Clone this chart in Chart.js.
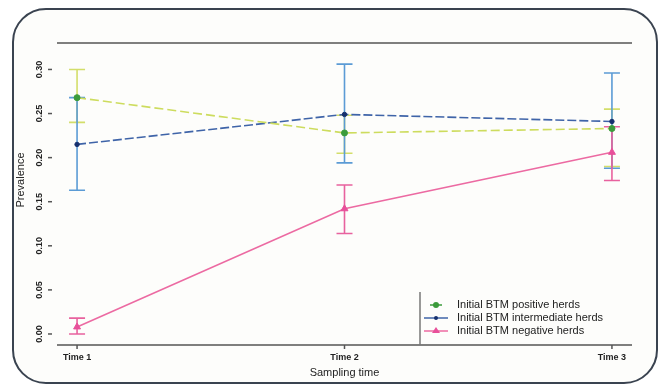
<!DOCTYPE html>
<html>
<head>
<meta charset="utf-8">
<script src="https://cdn.jsdelivr.net/npm/chart.js@4"></script>
<style>
  html, body { margin: 0; padding: 0; background: #fff; }
  #wrap { position: relative; width: 662px; height: 384px; }
  #frame { position: absolute; left: 12px; top: 8px; width: 642px; height: 372px;
           border: 2px solid #3a4350; border-radius: 34px; background: #fdfdfb; }
  canvas { position: absolute; left: 0; top: 0; }
</style>
</head>
<body>
<div id="wrap">
  <div id="frame"></div>
  <canvas id="cvs" width="662" height="384"></canvas>
</div>
<script>
// sampling times
const times = [1, 2, 3];
const timeLabels = ['Time 1', 'Time 2', 'Time 3'];
const yTicks = [0.00, 0.05, 0.10, 0.15, 0.20, 0.25, 0.30];

// prevalence + error bars
const posMean = [0.268, 0.228, 0.233];
const posLow  = [0.240, 0.205, 0.190];
const posHigh = [0.300, 0.248, 0.255];

const intMean = [0.215, 0.249, 0.241];
const intLow  = [0.163, 0.194, 0.188];
const intHigh = [0.268, 0.306, 0.296];

const negMean = [0.008, 0.142, 0.206];
const negLow  = [0.000, 0.114, 0.174];
const negHigh = [0.018, 0.169, 0.235];

const legendNames = ['Initial BTM positive herds', 'Initial BTM intermediate herds', 'Initial BTM negative herds'];

function pts(arr) { return times.map((t, i) => ({x: t, y: arr[i]})); }

const errBars = [
  {low: posLow, high: posHigh, color: '#d3de6a'},
  {low: intLow, high: intHigh, color: '#5b9bd5'},
  {low: negLow, high: negHigh, color: '#e8629e'}
];

const decor = {
  id: 'decor',
  beforeDatasetsDraw(chart) {
    const ctx = chart.ctx, xs = chart.scales.x, ys = chart.scales.y;
    ctx.save();
    errBars.forEach(e => {
      ctx.strokeStyle = e.color;
      ctx.lineWidth = 1.6;
      times.forEach((t, i) => {
        let x = xs.getPixelForValue(t),
            y1 = ys.getPixelForValue(e.low[i]),
            y2 = ys.getPixelForValue(e.high[i]);
        ctx.beginPath();
        ctx.moveTo(x, y1); ctx.lineTo(x, y2);
        ctx.moveTo(x - 8, y1); ctx.lineTo(x + 8, y1);
        ctx.moveTo(x - 8, y2); ctx.lineTo(x + 8, y2);
        ctx.stroke();
      });
    });
    ctx.restore();
  },
  afterDraw(chart) {
    const ctx = chart.ctx, xs = chart.scales.x, ys = chart.scales.y, a = chart.chartArea;
    ctx.save();
    // box lines
    ctx.strokeStyle = '#555';
    ctx.lineWidth = 1.5;
    ctx.beginPath();
    ctx.moveTo(a.left, a.top); ctx.lineTo(a.right, a.top);
    ctx.moveTo(a.left, a.bottom); ctx.lineTo(a.right, a.bottom);
    ctx.stroke();
    // y ticks, rotated labels
    ctx.fillStyle = '#222';
    ctx.font = 'bold 9px "Liberation Sans", Arial';
    ctx.textAlign = 'center';
    ctx.textBaseline = 'middle';
    yTicks.forEach(v => {
      let y = ys.getPixelForValue(v);
      ctx.beginPath();
      ctx.moveTo(48, y); ctx.lineTo(52, y);
      ctx.stroke();
      ctx.save();
      ctx.translate(40, y);
      ctx.rotate(-Math.PI / 2);
      ctx.fillText(v.toFixed(2), 0, 0);
      ctx.restore();
    });
    // x ticks
    times.forEach((t, i) => {
      let x = xs.getPixelForValue(t);
      ctx.beginPath();
      ctx.moveTo(x, a.bottom); ctx.lineTo(x, a.bottom + 4);
      ctx.stroke();
      ctx.fillText(timeLabels[i], x, a.bottom + 13);
    });
    // axis titles
    ctx.font = '11px "Liberation Sans", Arial';
    ctx.fillText('Sampling time', (a.left + a.right) / 2, 373);
    ctx.save();
    ctx.translate(21, 180);
    ctx.rotate(-Math.PI / 2);
    ctx.fillText('Prevalence', 0, 0);
    ctx.restore();
    // legend
    ctx.strokeStyle = '#777';
    ctx.lineWidth = 1.5;
    ctx.beginPath();
    ctx.moveTo(420, 292); ctx.lineTo(420, a.bottom);
    ctx.stroke();
    const sets = chart.data.datasets;
    ctx.textAlign = 'left';
    ctx.font = '11px "Liberation Sans", Arial';
    sets.forEach((d, i) => {
      let y = 305 + i * 13;
      ctx.strokeStyle = i == 0 ? '#3b9b3b' : d.borderColor;
      ctx.lineWidth = 1.5;
      ctx.beginPath();
      ctx.moveTo(i == 0 ? 430 : 424, y); ctx.lineTo(i == 0 ? 442 : 448, y);
      ctx.stroke();
      ctx.fillStyle = d.pointBackgroundColor;
      ctx.beginPath();
      if (i == 2) { ctx.moveTo(436, y - 4); ctx.lineTo(440, y + 2); ctx.lineTo(432, y + 2); }
      else ctx.arc(436, y, i == 0 ? 3 : 2, 0, Math.PI * 2);
      ctx.fill();
      ctx.fillStyle = '#222';
      ctx.fillText(legendNames[i], 457, y);
    });
    ctx.restore();
  }
};

new Chart(document.getElementById('cvs'), {
  type: 'line',
  data: {
    datasets: [
      {label: legendNames[0], data: pts(posMean), borderColor: '#cddc5e', borderWidth: 1.6,
       borderDash: [9, 4], pointBackgroundColor: '#3b9b3b', pointBorderColor: '#3b9b3b',
       pointStyle: 'circle', pointRadius: 3, pointBorderWidth: 1},
      {label: legendNames[1], data: pts(intMean), borderColor: '#3f64a8', borderWidth: 1.6,
       borderDash: [9, 3], pointBackgroundColor: '#16306e', pointBorderColor: '#16306e',
       pointStyle: 'circle', pointRadius: 2.2, pointBorderWidth: 1},
      {label: legendNames[2], data: pts(negMean), borderColor: '#ec6aa2', borderWidth: 1.6,
       pointBackgroundColor: '#e8509a', pointBorderColor: '#e8509a',
       pointStyle: 'triangle', pointRadius: 4, pointBorderWidth: 1}
    ]
  },
  options: {
    responsive: false,
    animation: false,
    layout: {padding: {left: 57, right: 30, top: 43, bottom: 39}},
    plugins: {legend: {display: false}, tooltip: {enabled: false}},
    scales: {
      x: {type: 'linear', display: false, min: 0.925, max: 3.075},
      y: {type: 'linear', display: false, min: -0.0125, max: 0.33}
    }
  },
  plugins: [decor]
});
</script>
</body>
</html>
